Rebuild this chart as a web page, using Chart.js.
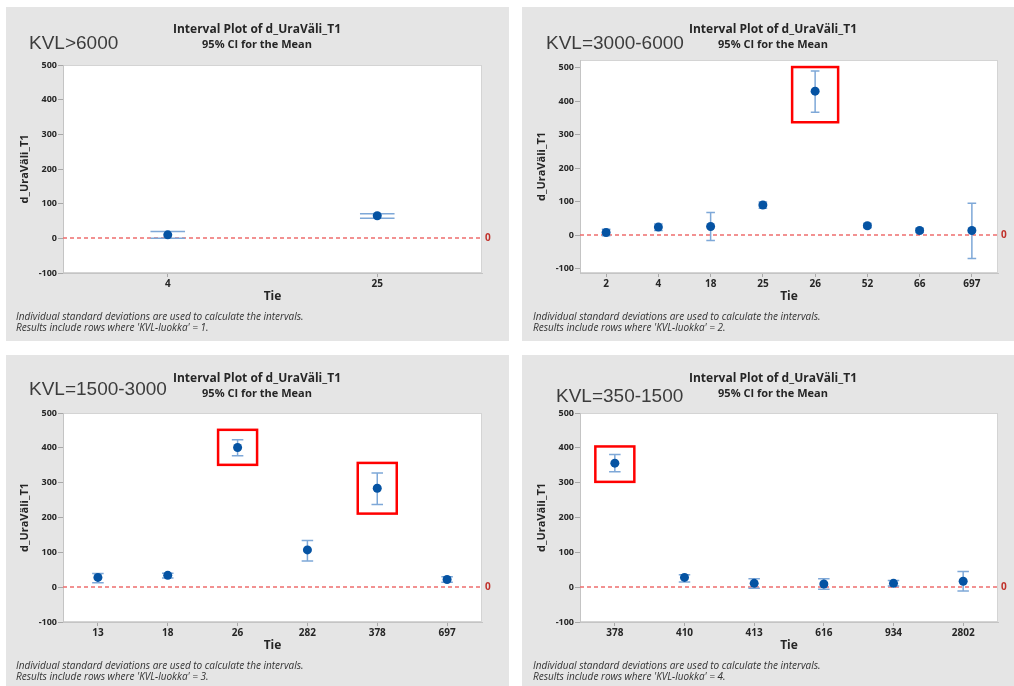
<!DOCTYPE html>
<html>
<head>
<meta charset="utf-8">
<title>Interval Plot of d_UraVäli_T1</title>
<script src="https://cdn.jsdelivr.net/npm/chart.js@4.4.1/dist/chart.umd.min.js"></script>
<style>
  html, body { margin: 0; padding: 0; background: #ffffff; }
  #page { position: relative; width: 1014px; height: 686px; overflow: hidden; }
  .panel { position: absolute; }
  .panel canvas { display: block; }
</style>
</head>
<body>
<div id="page">
  <div class="panel" style="left:6px;top:7px;"><canvas id="kvl1" width="503" height="334" style="width:503px;height:334px"></canvas></div>
  <div class="panel" style="left:522px;top:7px;"><canvas id="kvl2" width="492" height="334" style="width:492px;height:334px"></canvas></div>
  <div class="panel" style="left:6px;top:355px;"><canvas id="kvl3" width="503" height="331" style="width:503px;height:331px"></canvas></div>
  <div class="panel" style="left:522px;top:355px;"><canvas id="kvl4" width="492" height="331" style="width:492px;height:331px"></canvas></div>
</div>
<script>
// Shared y-axis ticks
const yTickValues = [-100, 0, 100, 200, 300, 400, 500];

// KVL-luokka = 1 (KVL>6000)
const tie1 = ['4', '25'];
const mean1 = [10, 65];
const ciLow1 = [0, 58];
const ciHigh1 = [20, 71];
const flagged1 = [];

// KVL-luokka = 2 (KVL=3000-6000)
const tie2 = ['2', '4', '18', '25', '26', '52', '66', '697'];
const mean2 = [8, 24, 26, 90, 430, 28, 14, 14];
const ciLow2 = [-2, 14, -16, 80, 367, 22, 8, -70];
const ciHigh2 = [18, 33, 68, 99, 490, 35, 20, 95];
const flagged2 = ['26'];

// KVL-luokka = 3 (KVL=1500-3000)
const tie3 = ['13', '18', '26', '282', '378', '697'];
const mean3 = [28, 34, 401, 107, 284, 22];
const ciLow3 = [13, 26, 377, 75, 237, 14];
const ciHigh3 = [39, 40, 423, 134, 328, 30];
const flagged3 = ['26', '378'];

// KVL-luokka = 4 (KVL=350-1500)
const tie4 = ['378', '410', '413', '616', '934', '2802'];
const mean4 = [356, 28, 11, 9, 11, 17];
const ciLow4 = [331, 15, -3, -6, 3, -11];
const ciHigh4 = [381, 36, 24, 24, 19, 45];
const flagged4 = ['378'];

const SANS = '"Open Sans", "Noto Sans", sans-serif';
const TEXT = '#262626';

// Draws the panel background, CI bars, reference line, highlight boxes and captions
const intervalPlot = {
  id: 'intervalPlot',
  beforeDraw(chart) {
    const { ctx, chartArea: a, width, height } = chart;
    ctx.save();
    ctx.fillStyle = '#e5e5e5';
    ctx.fillRect(0, 0, width, height);
    ctx.fillStyle = '#ffffff';
    ctx.fillRect(a.left, a.top, a.right - a.left, a.bottom - a.top);
    ctx.strokeStyle = '#d4d4d4';
    ctx.lineWidth = 1;
    ctx.strokeRect(a.left + 0.5, a.top + 0.5, a.right - a.left - 1, a.bottom - a.top - 1);
    ctx.restore();
  },
  beforeDatasetsDraw(chart, args, o) {
    const { ctx, chartArea: a, scales: { x, y } } = chart;
    ctx.save();
    // reference line at 0
    const y0 = Math.round(y.getPixelForValue(0));
    ctx.strokeStyle = '#ee6e6e';
    ctx.lineWidth = 1.3;
    ctx.setLineDash([4, 3]);
    ctx.beginPath();
    ctx.moveTo(a.left, y0);
    ctx.lineTo(a.right, y0);
    ctx.stroke();
    ctx.setLineDash([]);
    // confidence intervals
    const catW = (x.right - x.left) / o.labels.length;
    const cap = catW * 0.165 / 2;
    ctx.strokeStyle = '#7ea8d8';
    ctx.lineWidth = 1.5;
    o.labels.forEach((lab, i) => {
      const px = x.getPixelForValue(i);
      const pl = y.getPixelForValue(o.low[i]);
      const ph = y.getPixelForValue(o.high[i]);
      ctx.beginPath();
      ctx.moveTo(px, pl); ctx.lineTo(px, ph);
      ctx.moveTo(px - cap, ph); ctx.lineTo(px + cap, ph);
      ctx.moveTo(px - cap, pl); ctx.lineTo(px + cap, pl);
      ctx.stroke();
    });
    ctx.restore();
  },
  afterDraw(chart, args, o) {
    const { ctx, chartArea: a, scales: { x, y } } = chart;
    ctx.save();
    // highlight boxes
    ctx.strokeStyle = '#ff0000';
    ctx.lineWidth = 2.5;
    o.flagged.forEach(lab => {
      const i = o.labels.indexOf(lab);
      const px = x.getPixelForValue(i);
      const top = y.getPixelForValue(o.high[i]) - o.boxPad[0];
      const bot = y.getPixelForValue(o.low[i]) + o.boxPad[1];
      ctx.strokeRect(px - o.boxHalf, top, o.boxHalf * 2, bot - top);
    });
    // reference value label
    ctx.fillStyle = '#c0302a';
    ctx.font = 'bold 10px ' + SANS;
    ctx.textAlign = 'left';
    ctx.textBaseline = 'middle';
    ctx.fillText('0', a.right + 3, y.getPixelForValue(0));
    // titles
    ctx.fillStyle = TEXT;
    ctx.textAlign = 'center';
    ctx.textBaseline = 'alphabetic';
    ctx.font = 'bold 12px ' + SANS;
    ctx.fillText('Interval Plot of d_UraVäli_T1', 251, o.titleY);
    ctx.font = 'bold 11px ' + SANS;
    ctx.fillText('95% CI for the Mean', 251, o.titleY + 15);
    // class label
    ctx.fillStyle = '#3c3c3c';
    ctx.textAlign = 'left';
    ctx.font = '19px "Liberation Sans", Arial, sans-serif';
    ctx.fillText(o.classLabel, o.classX, o.classY);
    // axis titles
    ctx.fillStyle = TEXT;
    ctx.textAlign = 'center';
    ctx.textBaseline = 'middle';
    ctx.font = 'bold 12px ' + SANS;
    ctx.fillText('Tie', (a.left + a.right) / 2, a.bottom + 24);
    ctx.save();
    ctx.translate(o.yTitleX, (a.top + a.bottom) / 2);
    ctx.rotate(-Math.PI / 2);
    ctx.font = 'bold 11px ' + SANS;
    ctx.fillText('d_UraVäli_T1', 0, 0);
    ctx.restore();
    // footnotes
    ctx.fillStyle = '#333333';
    ctx.textAlign = 'left';
    ctx.textBaseline = 'middle';
    ctx.font = 'italic 10px ' + SANS;
    ctx.fillText('Individual standard deviations are used to calculate the intervals.', o.noteX, o.noteY);
    ctx.fillText("Results include rows where 'KVL-luokka' = " + o.classNo + '.', o.noteX, o.noteY + 11.5);
    ctx.restore();
  }
};

function makePanel(id, p) {
  return new Chart(document.getElementById(id), {
    type: 'line',
    data: {
      labels: p.labels,
      datasets: [{
        data: p.mean,
        showLine: false,
        pointRadius: 4.5,
        pointHoverRadius: 4.5,
        pointBackgroundColor: '#0553a3',
        pointBorderWidth: 0
      }]
    },
    options: {
      responsive: false,
      animation: false,
      devicePixelRatio: 1,
      events: [],
      layout: { padding: { left: 0, top: p.padTop, right: p.padRight, bottom: p.padBottom } },
      plugins: {
        legend: { display: false },
        tooltip: { enabled: false },
        intervalPlot: p
      },
      scales: {
        x: {
          type: 'category',
          offset: true,
          grid: { drawOnChartArea: false, drawTicks: true, tickLength: 4, color: '#a8a8a8' },
          border: { color: '#c4c4c4' },
          ticks: { font: { family: SANS, size: 10, weight: 'bold' }, color: TEXT, padding: 1, maxRotation: 0 },
          afterFit(s) { s.height = 20; }
        },
        y: {
          min: p.yMin,
          max: p.yMax,
          grid: { drawOnChartArea: false, drawTicks: true, tickLength: 5, color: '#a8a8a8' },
          border: { color: '#c4c4c4' },
          ticks: { font: { family: SANS, size: 9, weight: 'bold' }, color: TEXT, padding: 1 },
          afterBuildTicks(s) { s.ticks = yTickValues.map(v => ({ value: v })); },
          afterFit(s) { s.width = p.yWidth; }
        }
      }
    },
    plugins: [intervalPlot]
  });
}

makePanel('kvl1', {
  labels: tie1, mean: mean1, low: ciLow1, high: ciHigh1, flagged: flagged1,
  classLabel: 'KVL>6000', classNo: 1,
  yMin: -100, yMax: 500,
  padTop: 58, padRight: 27, padBottom: 48, yWidth: 57,
  titleY: 26, classX: 23, classY: 42, yTitleX: 19, noteX: 10, noteY: 310,
  boxHalf: 20, boxPad: [9, 9]
});
makePanel('kvl2', {
  labels: tie2, mean: mean2, low: ciLow2, high: ciHigh2, flagged: flagged2,
  classLabel: 'KVL=3000-6000', classNo: 2,
  yMin: -113, yMax: 523,
  padTop: 53, padRight: 16, padBottom: 48, yWidth: 58,
  titleY: 26, classX: 24, classY: 42, yTitleX: 20, noteX: 11, noteY: 310,
  boxHalf: 23, boxPad: [4, 10]
});
makePanel('kvl3', {
  labels: tie3, mean: mean3, low: ciLow3, high: ciHigh3, flagged: flagged3,
  classLabel: 'KVL=1500-3000', classNo: 3,
  yMin: -100, yMax: 500,
  padTop: 58, padRight: 27, padBottom: 44, yWidth: 57,
  titleY: 27, classX: 23, classY: 40, yTitleX: 19, noteX: 10, noteY: 311,
  boxHalf: 19.5, boxPad: [10, 9]
});
makePanel('kvl4', {
  labels: tie4, mean: mean4, low: ciLow4, high: ciHigh4, flagged: flagged4,
  classLabel: 'KVL=350-1500', classNo: 4,
  yMin: -100, yMax: 500,
  padTop: 58, padRight: 16, padBottom: 44, yWidth: 58,
  titleY: 27, classX: 34, classY: 47, yTitleX: 20, noteX: 11, noteY: 311,
  boxHalf: 19.5, boxPad: [8, 10]
});
</script>
</body>
</html>
